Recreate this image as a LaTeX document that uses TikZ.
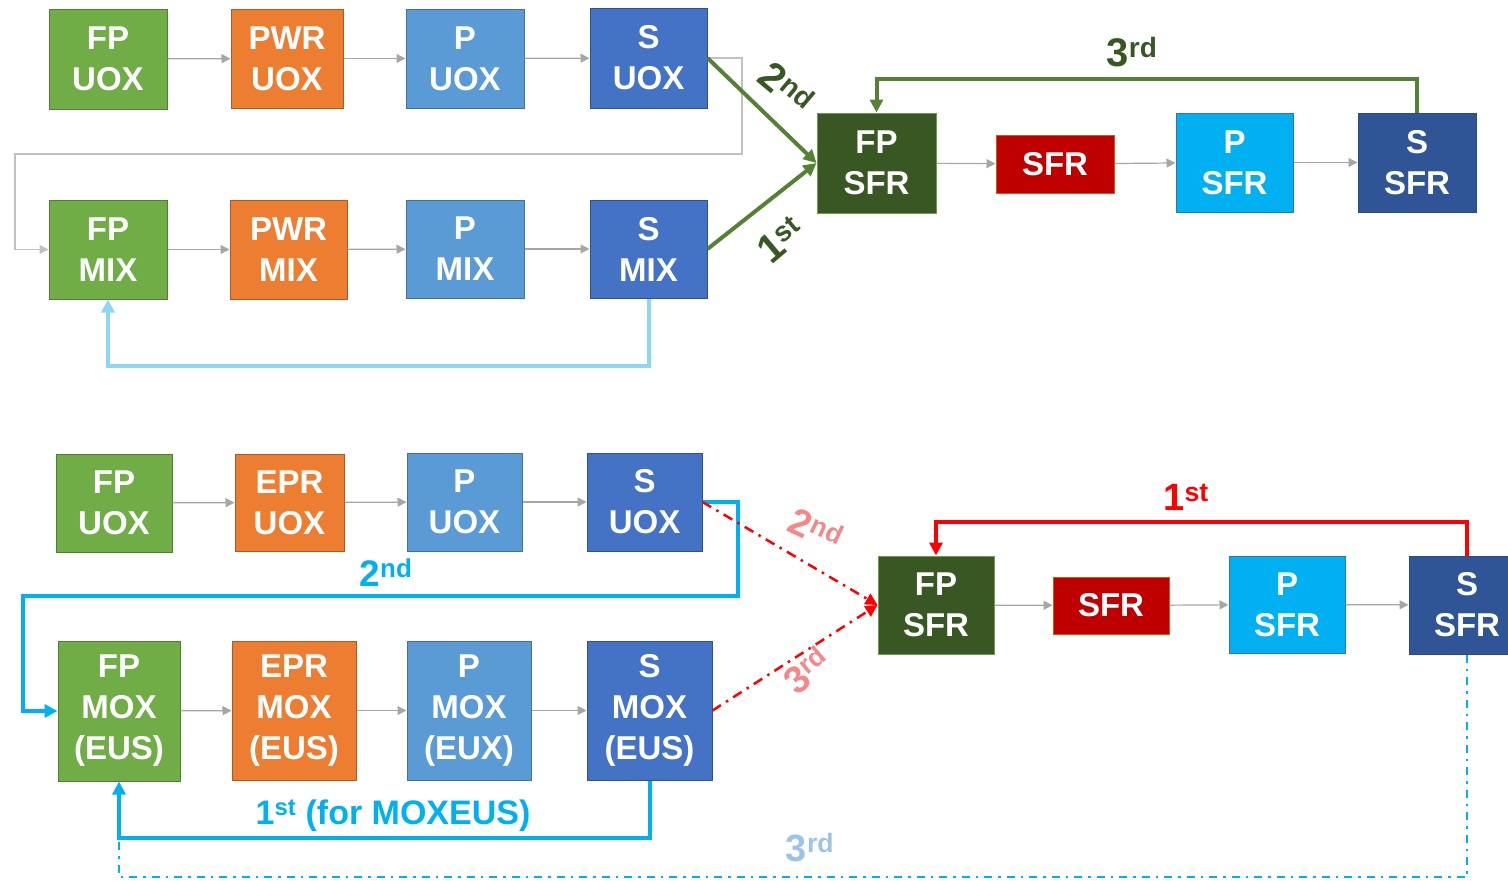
\documentclass[tikz,border=0pt]{standalone}
\usepackage{fontspec}
\setmainfont{Liberation Sans}
\usetikzlibrary{arrows.meta}
\definecolor{cgreen}{HTML}{70AD47}\definecolor{cgreenb}{HTML}{507E32}
\definecolor{corange}{HTML}{ED7D31}\definecolor{corangeb}{HTML}{AE5A21}
\definecolor{cblue}{HTML}{5B9BD5}\definecolor{cblueb}{HTML}{41719C}
\definecolor{cdblue}{HTML}{4472C4}\definecolor{cdblueb}{HTML}{2F528F}
\definecolor{cdgreen}{HTML}{385723}\definecolor{cdgreenb}{HTML}{6E9A4E}
\definecolor{cred}{HTML}{C00000}\definecolor{credb}{HTML}{C55A11}
\definecolor{ccyan}{HTML}{00B0F0}\definecolor{ccyanb}{HTML}{2E75B6}
\definecolor{cnavy}{HTML}{2F5597}\definecolor{cnavyb}{HTML}{2A4B85}
\definecolor{cgray}{HTML}{A6A6A6}
\definecolor{clgreen}{HTML}{548235}
\definecolor{clblue}{HTML}{8DD6F5}
\definecolor{cpink}{HTML}{F4878A}
\definecolor{cpale}{HTML}{9DC3E6}
\definecolor{cbright}{HTML}{FF0000}
\tikzset{
  box/.style={draw, line width=1pt, inner sep=0pt, align=center, text=white,
    font=\fontsize{33}{41}\selectfont\bfseries},
  gbox/.style={box, fill=cgreen, draw=cgreenb},
  obox/.style={box, fill=corange, draw=corangeb},
  bbox/.style={box, fill=cblue, draw=cblueb},
  dbox/.style={box, fill=cdblue, draw=cdblueb},
  fbox/.style={box, fill=cdgreen, draw=cdgreenb},
  rbox/.style={box, fill=cred, draw=credb},
  cbox/.style={box, fill=ccyan, draw=ccyanb},
  nbox/.style={box, fill=cnavy, draw=cnavyb},
  garrow/.style={draw=cgray, line width=1.2pt, -{Triangle[length=9pt,width=9pt]}},
  greenarrow/.style={draw=clgreen, line width=4pt, -{Triangle[length=13pt,width=13pt]}},
  lbarrow/.style={draw=clblue, line width=4pt, -{Triangle[length=13pt,width=13pt]}},
  cyarrow/.style={draw=ccyan, line width=4pt, -{Triangle[length=13pt,width=13pt]}},
  redarrow/.style={draw=cbright, line width=4pt, -{Triangle[length=13pt,width=13pt]}},
  reddash/.style={draw=cbright, line width=2.5pt, dash pattern=on 10pt off 6pt on 2.5pt off 6pt, -{Triangle[length=12pt,width=12pt]}},
  bluedash/.style={draw=ccyan, line width=2.5pt, dash pattern=on 8pt off 6pt on 2.5pt off 6pt},
  lab/.style={inner sep=0pt, font=\fontsize{40}{40}\selectfont\bfseries},
}
\begin{document}
\begin{tikzpicture}[x=1pt,y=-1pt]
\useasboundingbox (0,0) rectangle (1508,881);
% ---------- top section ----------
\node[gbox, minimum width=118pt, minimum height=100pt] (fpuox) at (108,59) {FP\\UOX};
\node[obox, minimum width=112pt, minimum height=99pt] (pwruox) at (287,58.5) {PWR\\UOX};
\node[bbox, minimum width=118pt, minimum height=99pt] (puox) at (465,58.5) {P\\UOX};
\node[dbox, minimum width=117pt, minimum height=100pt] (suox) at (648.5,58) {S\\UOX};
\node[gbox, minimum width=118pt, minimum height=99pt] (fpmix) at (108,249.5) {FP\\MIX};
\node[obox, minimum width=117pt, minimum height=99pt] (pwrmix) at (288.5,249.5) {PWR\\MIX};
\node[bbox, minimum width=118pt, minimum height=98pt] (pmix) at (465,249) {P\\MIX};
\node[dbox, minimum width=117pt, minimum height=98pt] (smix) at (648.5,249) {S\\MIX};
\node[fbox, minimum width=119pt, minimum height=100pt] (fpsfr) at (876.5,163) {FP\\SFR};
\node[rbox, minimum width=118pt, minimum height=58pt] (sfr) at (1055,164) {SFR};
\node[cbox, minimum width=117pt, minimum height=99pt] (psfr) at (1234.5,162.5) {P\\SFR};
\node[nbox, minimum width=118pt, minimum height=99pt] (ssfr) at (1417,162.5) {S\\SFR};
\draw[garrow] (fpuox) -- (pwruox);
\draw[garrow] (pwruox) -- (puox);
\draw[garrow] (puox) -- (suox);
\draw[garrow] (fpmix) -- (pwrmix);
\draw[garrow] (pwrmix) -- (pmix);
\draw[garrow] (pmix) -- (smix);
\draw[garrow] (fpsfr) -- (sfr);
\draw[garrow] (sfr) -- (psfr);
\draw[garrow] (psfr) -- (ssfr);
\coordinate (g1) at (742,154);
\coordinate (g2) at (15,154);
\draw[garrow, draw=cgray!70] (suox.east) -| (g1) -- (g2) |- (fpmix.west);
\draw[greenarrow] (suox.east) -- (fpsfr.west);
\draw[greenarrow] (smix.east) -- (fpsfr.west);
\coordinate (t3) at (876.5,79);
\draw[greenarrow] (ssfr.north) |- (t3) -- (fpsfr.north);
\draw[lbarrow] (smix.south) -- ++(0,67) -| (fpmix.south);
\node[lab, text=cdgreen] (l3rd) at (1132,52) {3\textsuperscript{rd}};
\node[lab, text=cdgreen, rotate=-40] (l2nd) at (787,88) {2\textsuperscript{nd}};
\node[lab, text=cdgreen, rotate=40] (l1st) at (781,240) {1\textsuperscript{st}};
% ---------- bottom section ----------
\node[gbox, minimum width=116pt, minimum height=98pt] (fpuox2) at (114,503) {FP\\UOX};
\node[obox, minimum width=109pt, minimum height=97pt] (epruox) at (289.5,502.5) {EPR\\UOX};
\node[bbox, minimum width=115pt, minimum height=98pt] (puox2) at (464.5,502) {P\\UOX};
\node[dbox, minimum width=115pt, minimum height=98pt] (suox2) at (644.5,502) {S\\UOX};
\node[gbox, minimum width=122pt, minimum height=140pt] (fpmox) at (119,711) {FP\\MOX\\(EUS)};
\node[obox, minimum width=124pt, minimum height=139pt] (eprmox) at (294,710.5) {EPR\\MOX\\(EUS)};
\node[bbox, minimum width=124pt, minimum height=139pt] (pmox) at (469,710.5) {P\\MOX\\(EUX)};
\node[dbox, minimum width=125pt, minimum height=139pt] (smox) at (649.5,710.5) {S\\MOX\\(EUS)};
\node[fbox, minimum width=116pt, minimum height=98pt] (fpsfr2) at (936,605) {FP\\SFR};
\node[rbox, minimum width=116pt, minimum height=57pt] (sfr2) at (1111,605.5) {SFR};
\node[cbox, minimum width=116pt, minimum height=97pt] (psfr2) at (1287,604.5) {P\\SFR};
\node[nbox, minimum width=116pt, minimum height=98pt] (ssfr2) at (1467,605) {S\\SFR};
\draw[garrow] (fpuox2) -- (epruox);
\draw[garrow] (epruox) -- (puox2);
\draw[garrow] (puox2) -- (suox2);
\draw[garrow] (fpmox) -- (eprmox);
\draw[garrow] (eprmox) -- (pmox);
\draw[garrow] (pmox) -- (smox);
\draw[garrow] (fpsfr2) -- (sfr2);
\draw[garrow] (sfr2) -- (psfr2);
\draw[garrow] (psfr2) -- (ssfr2);
\coordinate (b1) at (738,596);
\coordinate (b2) at (23,596);
\draw[cyarrow] (suox2.east) -| (b1) -- (b2) |- (fpmox.west);
\draw[cyarrow] (smox.south) -- ++(0,57) -| (fpmox.south);
\draw[reddash] (suox2.east) -- (fpsfr2.west);
\draw[reddash] (smox.east) -- (fpsfr2.west);
\coordinate (r1) at (936,522);
\draw[redarrow] (ssfr2.north) |- (r1) -- (fpsfr2.north);
\coordinate (c1) at (119,877);
\coordinate (c2) at (119,837);
\draw[bluedash] (ssfr2.south) |- (c1) -- (c2);
\node[lab, text=ccyan, font=\fontsize{37}{37}\selectfont\bfseries] (b2nd) at (386,573) {2\textsuperscript{nd}};
\node[lab, text=ccyan, font=\fontsize{34}{34}\selectfont\bfseries] (b1st) at (393,816) {1\textsuperscript{st} (for MOXEUS)};
\node[lab, text=cbright, font=\fontsize{38}{38}\selectfont\bfseries] (r1st) at (1186,497) {1\textsuperscript{st}};
\node[lab, text=cpink, font=\fontsize{38}{38}\selectfont\bfseries, rotate=-25] (p2nd) at (816,529) {2\textsuperscript{nd}};
\node[lab, text=cpink, font=\fontsize{38}{38}\selectfont\bfseries, rotate=40] (p3rd) at (807,670) {3\textsuperscript{rd}};
\node[lab, text=cpale, font=\fontsize{38}{38}\selectfont\bfseries] (c3rd) at (810,848) {3\textsuperscript{rd}};
\end{tikzpicture}
\end{document}
